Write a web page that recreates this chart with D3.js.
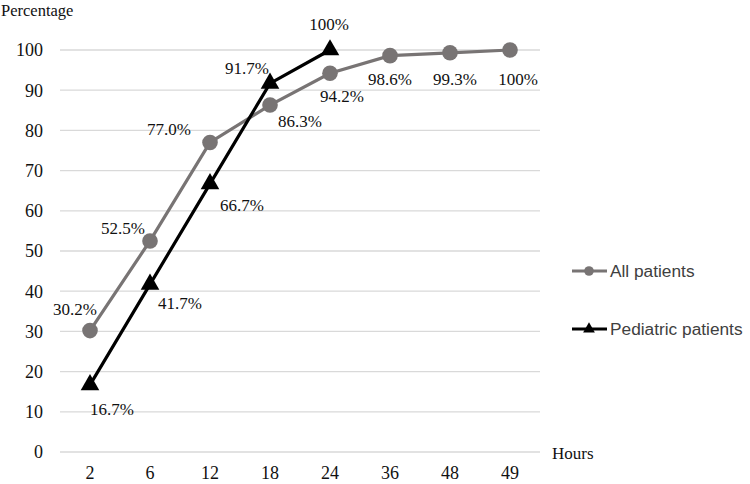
<!DOCTYPE html>
<html>
<head>
<meta charset="utf-8">
<script src="https://cdn.jsdelivr.net/npm/d3@7"></script>
<style>
    body { margin: 0; background: #fff; }
    svg { display: block; }
</style>
</head>
<body>
<div id="chart"></div>
<script>
// データ
var hours = ["2", "6", "12", "18", "24", "36", "48", "49"];
var allPatients = [30.2, 52.5, 77.0, 86.3, 94.2, 98.6, 99.3, 100];
var allLabels = ["30.2%", "52.5%", "77.0%", "86.3%", "94.2%", "98.6%", "99.3%", "100%"];
var pediatric = [16.7, 41.7, 66.7, 91.7, 100];
var pedLabels = ["16.7%", "41.7%", "66.7%", "91.7%", "100%"];
var yTicks = [0, 10, 20, 30, 40, 50, 60, 70, 80, 90, 100];

// ラベルのずらし量 (点からの位置)
var allLabelOffset = [[-15, -22], [-27, -13], [-41, -13], [30, 16], [12, 23], [0, 23], [5, 26], [8, 29]];
var pedLabelOffset = [[22, 24], [30, 19], [32, 21], [-23, -15], [-1, -26]];

var width = 750, height = 484;
var grayColor = "#787474";
var serif = "'Liberation Serif', 'Times New Roman', serif";
var sans = "'Liberation Sans', Arial, sans-serif";

var svg = d3.select("#chart").append("svg")
    .attr("width", width)
    .attr("height", height);

var x = d3.scaleBand().domain(hours).range([60, 540]);
var y = d3.scaleLinear().domain([0, 100]).range([452, 50]);

function cx(i) { return x(hours[i]) + x.bandwidth() / 2; }

// グリッド線
svg.append("g").selectAll("line")
    .data(yTicks)
    .enter().append("line")
    .attr("x1", 60).attr("x2", 540)
    .attr("y1", function (d) { return y(d); })
    .attr("y2", function (d) { return y(d); })
    .attr("stroke", "#d9d9d9")
    .attr("stroke-width", 1.3);

// 軸ラベル
svg.append("g").selectAll("text")
    .data(yTicks)
    .enter().append("text")
    .attr("x", 43)
    .attr("y", function (d) { return y(d); })
    .attr("dy", "0.35em")
    .attr("text-anchor", "end")
    .style("font-family", serif).style("font-size", "18px").attr("fill", "#111")
    .text(function (d) { return d; });

svg.append("g").selectAll("text")
    .data(hours)
    .enter().append("text")
    .attr("x", function (d) { return x(d) + x.bandwidth() / 2; })
    .attr("y", 479)
    .attr("text-anchor", "middle")
    .style("font-family", serif).style("font-size", "18px").attr("fill", "#111")
    .text(function (d) { return d; });

svg.append("text").attr("x", 1).attr("y", 16)
    .style("font-family", serif).style("font-size", "16.5px").attr("fill", "#111")
    .text("Percentage");
svg.append("text").attr("x", 552).attr("y", 459)
    .style("font-family", serif).style("font-size", "17px").attr("fill", "#111")
    .text("Hours");

var line = d3.line()
    .x(function (d, i) { return cx(i); })
    .y(function (d) { return y(d); });

// All patients
svg.append("path").datum(allPatients)
    .attr("d", line)
    .attr("fill", "none").attr("stroke", grayColor).attr("stroke-width", 3.2);
svg.append("g").selectAll("circle")
    .data(allPatients)
    .enter().append("circle")
    .attr("cx", function (d, i) { return cx(i); })
    .attr("cy", function (d) { return y(d); })
    .attr("r", 7.8)
    .attr("fill", grayColor);

// Pediatric patients
var tri = d3.symbol().type(d3.symbolTriangle).size(150);
svg.append("path").datum(pediatric)
    .attr("d", line)
    .attr("fill", "none").attr("stroke", "#000").attr("stroke-width", 3.2);
svg.append("g").selectAll("path")
    .data(pediatric)
    .enter().append("path")
    .attr("d", tri)
    .attr("transform", function (d, i) { return "translate(" + cx(i) + "," + y(d) + ")"; })
    .attr("fill", "#000");

// データラベル
function addLabels(values, labels, offsets) {
    svg.append("g").selectAll("text")
        .data(values)
        .enter().append("text")
        .attr("x", function (d, i) { return cx(i) + offsets[i][0]; })
        .attr("y", function (d, i) { return y(d) + offsets[i][1]; })
        .attr("dy", "0.35em")
        .attr("text-anchor", "middle")
        .style("font-family", serif).style("font-size", "17px").attr("fill", "#111")
        .text(function (d, i) { return labels[i]; });
}
addLabels(allPatients, allLabels, allLabelOffset);
addLabels(pediatric, pedLabels, pedLabelOffset);

// 凡例
var legend = [
    { name: "All patients", color: grayColor, shape: "circle", ly: 271 },
    { name: "Pediatric patients", color: "#000", shape: "triangle", ly: 329 }
];
var lg = svg.append("g").selectAll("g")
    .data(legend)
    .enter().append("g")
    .attr("transform", function (d) { return "translate(0," + d.ly + ")"; });
lg.append("line")
    .attr("x1", 572).attr("x2", 607)
    .attr("stroke", function (d) { return d.color; })
    .attr("stroke-width", 3.2);
lg.each(function (d) {
    var g = d3.select(this);
    if (d.shape == "circle") {
        g.append("circle").attr("cx", 589).attr("r", 4.8).attr("fill", d.color);
    } else {
        g.append("path").attr("d", d3.symbol().type(d3.symbolTriangle).size(60))
            .attr("transform", "translate(589,0)").attr("fill", d.color);
    }
});
lg.append("text")
    .attr("x", 610).attr("dy", "0.35em")
    .style("font-family", sans).style("font-size", "17.3px").attr("fill", "#404040")
    .text(function (d) { return d.name; });
</script>
</body>
</html>
